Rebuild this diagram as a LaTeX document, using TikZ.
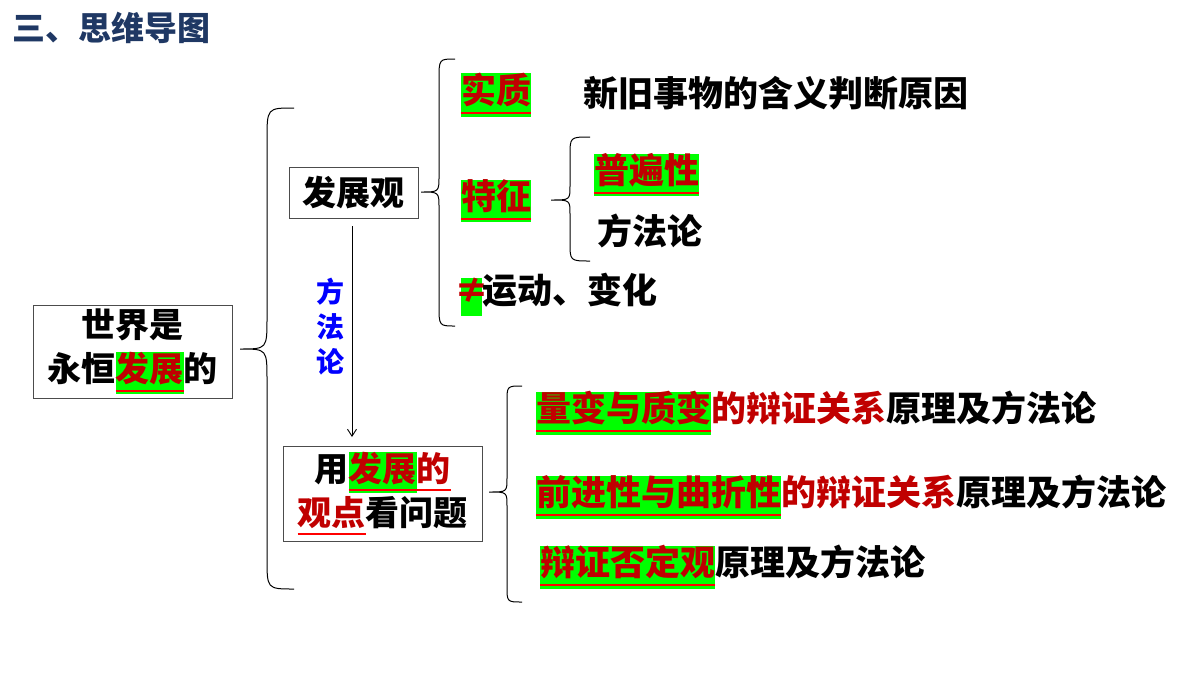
\documentclass[tikz,border=0pt]{standalone}
\usepackage{fontspec}
\usetikzlibrary{arrows.meta}
\setmainfont{Noto Sans CJK SC}
\definecolor{hlg}{HTML}{00FF00}
\definecolor{tred}{HTML}{C00000}
\definecolor{ulred}{HTML}{FF0000}
\definecolor{tnavy}{HTML}{1F3864}
\newcommand\hlstrut{\rule[-0.36em]{0pt}{1.06em}}
\newcommand\ulred[1]{\sbox0{#1}\rlap{\textcolor{ulred}{\rule[-0.3em]{\wd0}{0.06em}}}\box0}
\newcommand\hlbox[1]{{\setlength\fboxsep{0pt}\colorbox{hlg}{\hlstrut\textcolor{tred}{\ulred{#1}}}}}
\newcommand\rd[1]{\textcolor{tred}{#1}}
\begin{document}
\begin{tikzpicture}[x=1pt,y=-1pt,
  txt/.style={inner sep=0pt,anchor=west,font=\fontsize{35}{42}\selectfont\bfseries},
  box/.style={draw=black!70,line width=0.8pt,inner sep=0pt,align=center,font=\fontsize{34}{44}\selectfont\bfseries},
  brace/.style={draw=black,line width=1pt}]
\useasboundingbox (0,0) rectangle (1200,675);
\node[inner sep=0pt,anchor=west,text=tnavy,font=\fontsize{33}{36}\selectfont\bfseries] (title) at (12,28) {三、思维导图};
\node[box,minimum width=199pt,minimum height=93pt] (world) at (132.5,351.5) {世界是\\永恒\hlbox{发展}的};
\node[box,minimum width=129pt,minimum height=51pt] (fzg) at (353.5,192.5) {发展观};
\node[box,minimum width=199pt,minimum height=95pt] (yong) at (382.5,493.5) {用\hlbox{发展}\rd{\ulred{的}}\\\rd{\ulred{观点}}看问题};
\coordinate (arrS) at (352,226);
\coordinate (arrE) at (352,437);
\draw[line width=0.9pt,-{Straight Barb[length=7pt,width=9pt]}] (arrS) -- (arrE);
\node[inner sep=0pt,text=blue,align=center,font=\fontsize{28}{35}\selectfont\bfseries] (ffl) at (330,327) {方\\法\\论};
% braces
\draw[brace] (294,108) .. controls (267,108) .. (267,140) -- (267,318) .. controls (267,349) .. (240,349) .. controls (267,349) .. (267,380) -- (267,558) .. controls (267,589) .. (294,589);
\draw[brace] (455,59) .. controls (439,59) .. (439,80) -- (439,176) .. controls (439,192) .. (421,192) .. controls (439,192) .. (439,208) -- (439,305) .. controls (439,326) .. (455,326);
\draw[brace] (590,137) .. controls (570,137) .. (570,156) -- (570,186) .. controls (570,200) .. (551,200) .. controls (570,200) .. (570,214) -- (570,242) .. controls (570,261) .. (590,261);
\draw[brace] (522,386) .. controls (507,386) .. (507,402) -- (507,478) .. controls (507,492) .. (489,492) .. controls (507,492) .. (507,506) -- (507,586) .. controls (507,602) .. (522,602);
% right texts
\node[txt] (sz) at (461,95) {\hlbox{实质}};
\node[txt] (szt) at (583,93) {新旧事物的含义判断原因};
\node[txt] (tz) at (461,201) {\hlbox{特征}};
\node[txt] (pbx) at (594,175) {\hlbox{普遍性}};
\node[txt] (ffl2) at (597,231) {方法论};
\node[txt] (yd) at (461,295) {{\setlength\fboxsep{0pt}\colorbox{hlg}{\hlstrut\makebox[21pt]{\textcolor{tred}{≠}}}}运动、变化};
\node[txt] (l1) at (536,413) {\hlbox{量变与质变}\rd{的辩证关系}原理及方法论};
\node[txt] (l2) at (536,497) {\hlbox{前进性与曲折性}\rd{的辩证关系}原理及方法论};
\node[txt] (l3) at (540,567) {\hlbox{辩证否定观}原理及方法论};
\end{tikzpicture}
\end{document}
